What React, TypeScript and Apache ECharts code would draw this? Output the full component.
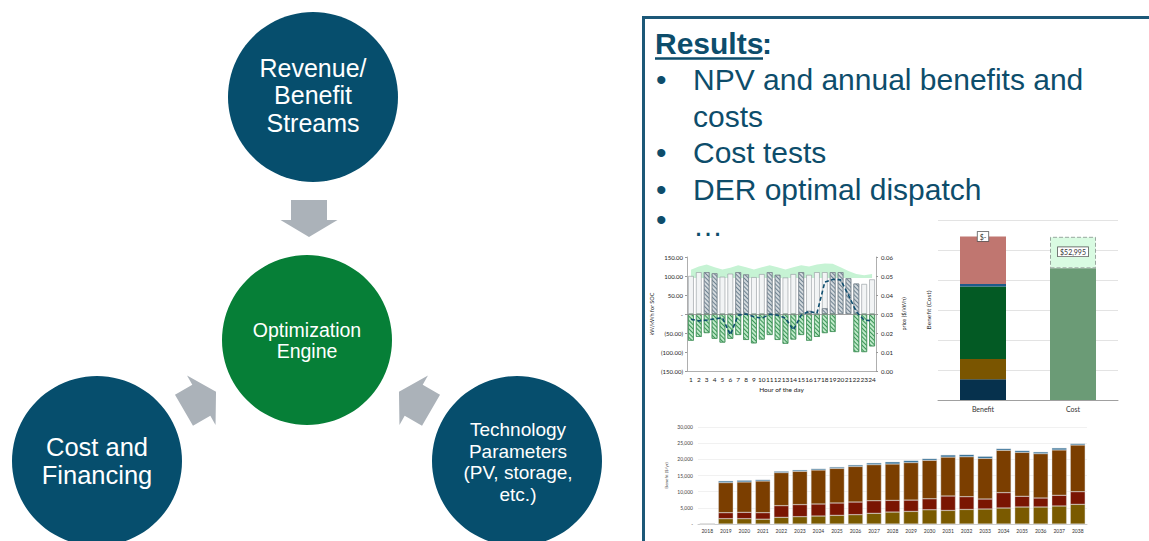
import React, { useEffect, useRef } from 'react';
import * as echarts from 'echarts';

// ---------- Dispatch chart (hour of the day) ----------
const hours = ['1','2','3','4','5','6','7','8','9','10','11','12','13','14','15','16','17','18','19','20','21','22','23','24'];
const pvOutput = [100, 110, null, null, 98, 106, null, null, 97, 105, null, null, 96, 105, null, 103, 110, 110, null, null, null, null, 79, 91];
const storageDischarge = [null, null, 110, 107, null, null, 110, 104, null, null, 110, 103, null, null, 110, 8, null, 15, 110, 110, 94, 80, null, null];
const storageCharge = [-70, -60, -50, -65, -75, -65, -55, -68, -77, -67, -55, -68, -78, -67, -55, -70, -60, -50, -47, null, null, -100, -100, -85];
const stateOfCharge = [-14, -18, -16, -13, -10, -55, -3, 0, -7, -11, -1, -3, -11, -42, -3, 7, 2, 84, 91, 90, 50, 6, -16, -18];
const energyPrice = [0.0533, 0.055, 0.056, 0.0546, 0.0534, 0.0544, 0.0556, 0.0546, 0.0534, 0.0546, 0.0556, 0.0546, 0.0534, 0.0546, 0.0556, 0.055, 0.056, 0.0566, 0.0564, 0.0546, 0.0526, 0.051, 0.0504, 0.051];
const leftTicks = { min: -150, max: 150, interval: 50 };
const rightTicks = { min: 0, max: 0.06, interval: 0.01 };

// ---------- NPV benefit / cost chart ----------
const npvCategories = ['Benefit', 'Cost'];
const benefitNavy = [6900, null];
const benefitOlive = [6800, null];
const benefitGreen = [24100, null];
const benefitBlue = [900, null];
const benefitSalmon = [15800, null];
const costGreen = [null, 43900];
const costNet = [null, 10500];
const benefitLabel = '$-';
const costLabel = '$52,995';

// ---------- Annual benefit chart ----------
const years = ['2018','2019','2020','2021','2022','2023','2024','2025','2026','2027','2028','2029','2030','2031','2032','2033','2034','2035','2036','2037','2038'];
const annualOlive = [0, 1650, 1650, 1500, 2060, 2270, 2470, 2680, 2890, 3300, 3700, 3900, 4400, 4200, 4500, 4640, 4950, 5260, 5260, 5570, 6080];
const annualRed = [0, 1850, 1950, 2000, 3610, 3730, 3720, 3820, 3910, 3900, 3600, 3500, 3400, 4460, 3950, 3090, 4750, 3300, 2780, 3300, 3920];
const annualBrown = [0, 9300, 9400, 9800, 10230, 10300, 10510, 10700, 11000, 11150, 11260, 11600, 11900, 12040, 12350, 12570, 13100, 13600, 13710, 14030, 14430];
const annualBlue = [0, 500, 500, 400, 400, 400, 400, 400, 450, 520, 640, 600, 500, 640, 640, 600, 500, 520, 520, 600, 420];

// ---------- Slide text ----------
const resultsTitle = 'Results';
const bulletLines = ['NPV and annual benefits and', 'costs', 'Cost tests', 'DER optimal dispatch', '…'];
const bulletFlags = [true, false, true, true, true];

const FONT = '"Liberation Sans", Arial, sans-serif';
const NAVY = '#064e6d';
const GREEN = '#067f37';
const ARROW = '#abb2b9';
const TEXT_BLUE = '#0d4d6b';

function arrowPts(cx: number, cy: number, angDeg: number) {
  const a = (angDeg * Math.PI) / 180;
  const c = Math.cos(a);
  const s = Math.sin(a);
  const local = [[-18.5, -18], [1.5, -18], [1.5, -28.5], [18.5, 0], [1.5, 28.5], [1.5, 18], [-18.5, 18]];
  return local.map(([x, y]) => [cx + x * c - y * s, cy + x * s + y * c]);
}

function circleText(cx: number, cy: number, text: string, size: number, lh: number) {
  return {
    type: 'text',
    z: 10,
    style: {
      text,
      x: cx,
      y: cy,
      align: 'center',
      verticalAlign: 'middle',
      fill: '#ffffff',
      fontSize: size,
      lineHeight: lh,
      fontFamily: FONT,
    },
  };
}

export default function App() {
  const ref = useRef<HTMLDivElement>(null);

  useEffect(() => {
    if (!ref.current) return;
    const chart = echarts.init(ref.current, undefined, { renderer: 'svg' });

    const graphics: any[] = [
      { type: 'circle', shape: { cx: 313, cy: 97, r: 85 }, style: { fill: NAVY } },
      { type: 'circle', shape: { cx: 307, cy: 340, r: 85 }, style: { fill: GREEN } },
      { type: 'circle', shape: { cx: 97, cy: 461, r: 85 }, style: { fill: NAVY } },
      { type: 'circle', shape: { cx: 517, cy: 461, r: 85 }, style: { fill: NAVY } },
      { type: 'polygon', shape: { points: arrowPts(309, 218.5, 90) }, style: { fill: ARROW } },
      { type: 'polygon', shape: { points: arrowPts(200, 401, -30) }, style: { fill: ARROW } },
      { type: 'polygon', shape: { points: arrowPts(415, 401, -150) }, style: { fill: ARROW } },
      circleText(313, 95, 'Revenue/\nBenefit\nStreams', 25, 27.5),
      circleText(307, 340, 'Optimization\nEngine', 19.5, 21),
      circleText(97, 461, 'Cost and\nFinancing', 25.5, 28),
      circleText(518, 462, 'Technology\nParameters\n(PV, storage,\netc.)', 19, 21.7),
      { type: 'rect', shape: { x: 643.5, y: 17.5, width: 540, height: 560 }, style: { fill: 'none', stroke: '#1c5878', lineWidth: 3 } },
      {
        type: 'text',
        style: { text: resultsTitle, x: 655, y: 43, verticalAlign: 'middle', fontSize: 30, fontWeight: 'bold', fill: TEXT_BLUE, fontFamily: FONT },
      },
      {
        type: 'text',
        style: { text: ':', x: 762, y: 43, verticalAlign: 'middle', fontSize: 30, fontWeight: 'bold', fill: TEXT_BLUE, fontFamily: FONT },
      },
      { type: 'line', shape: { x1: 655, y1: 58.5, x2: 763, y2: 58.5 }, style: { stroke: TEXT_BLUE, lineWidth: 2.5 } },
    ];

    bulletLines.forEach((line, i) => {
      const y = 79.5 + i * 36.6;
      if (bulletFlags[i]) {
        graphics.push({
          type: 'text',
          style: { text: '•', x: 656, y: i === 4 ? y - 6 : y, verticalAlign: 'middle', fontSize: 30, fill: TEXT_BLUE, fontFamily: FONT },
        });
      }
      graphics.push({
        type: 'text',
        style: { text: line, x: 693, y, verticalAlign: 'middle', fontSize: 30, fill: TEXT_BLUE, fontFamily: FONT },
      });
    });

    const smallLabel = { fontFamily: 'Lato, "Liberation Sans", sans-serif', color: '#222' };

    const hatch = (color: string) => ({
      symbol: 'rect',
      symbolSize: 1,
      color,
      dashArrayX: [1, 0],
      dashArrayY: [1, 1.8],
      rotation: Math.PI / 4,
    });

    const option: any = {
      animation: false,
      backgroundColor: '#ffffff',
      graphic: graphics,
      grid: [
        { left: 687, top: 257, width: 189, height: 114 },
        { left: 938, top: 220, width: 180, height: 180 },
        { left: 698, top: 427, width: 389, height: 97 },
      ],
      xAxis: [
        {
          type: 'category',
          gridIndex: 0,
          data: hours,
          axisLine: { onZero: false, lineStyle: { color: '#9a9a9a', width: 0.8 } },
          axisTick: { show: false },
          axisLabel: { ...smallLabel, fontSize: 6.5, interval: 0, margin: 5 },
          name: 'Hour of the day',
          nameLocation: 'middle',
          nameGap: 15,
          nameTextStyle: { ...smallLabel, fontSize: 6.5 },
        },
        {
          type: 'category',
          gridIndex: 1,
          data: npvCategories,
          axisLine: { lineStyle: { color: '#a0a0a0', width: 1 } },
          axisTick: { show: false },
          axisLabel: { ...smallLabel, fontSize: 7, color: '#333', margin: 5 },
        },
        {
          type: 'category',
          gridIndex: 2,
          data: years,
          axisLine: { lineStyle: { color: '#cccccc', width: 1 } },
          axisTick: { show: false },
          axisLabel: { ...smallLabel, fontSize: 5, interval: 0, margin: 4, color: '#333' },
        },
      ],
      yAxis: [
        {
          type: 'value',
          gridIndex: 0,
          ...leftTicks,
          axisLine: { show: true, lineStyle: { color: '#9a9a9a', width: 0.8 } },
          axisTick: { show: true, length: 2, lineStyle: { color: '#9a9a9a' } },
          splitLine: { show: false },
          axisLabel: {
            ...smallLabel,
            fontSize: 6,
            margin: 4,
            formatter: (v: number) => (v === 0 ? '-' : v < 0 ? `(${Math.abs(v).toFixed(2)})` : v.toFixed(2)),
          },
          name: 'kW/kWh for SOC',
          nameLocation: 'middle',
          nameRotate: 90,
          nameGap: 32,
          nameTextStyle: { ...smallLabel, fontSize: 5.5 },
        },
        {
          type: 'value',
          gridIndex: 0,
          position: 'right',
          ...rightTicks,
          axisLine: { show: true, lineStyle: { color: '#9a9a9a', width: 0.8 } },
          axisTick: { show: true, length: 2, lineStyle: { color: '#9a9a9a' } },
          splitLine: { show: false },
          axisLabel: { ...smallLabel, fontSize: 6, margin: 5, formatter: (v: number) => v.toFixed(2) },
          name: 'price ($/kWh)',
          nameLocation: 'middle',
          nameRotate: 90,
          nameGap: 25,
          nameTextStyle: { ...smallLabel, fontSize: 5.5 },
        },
        {
          type: 'value',
          gridIndex: 1,
          min: 0,
          max: 60000,
          interval: 10000,
          axisLine: { show: false },
          axisTick: { show: false },
          axisLabel: { show: false },
          splitLine: { lineStyle: { color: '#e3e3e3', width: 1 } },
          name: 'Benefit (Cost)',
          nameLocation: 'middle',
          nameRotate: 90,
          nameGap: 6,
          nameTextStyle: { ...smallLabel, fontSize: 6.5, color: '#333' },
        },
        {
          type: 'value',
          gridIndex: 2,
          min: 0,
          max: 30000,
          interval: 5000,
          axisLine: { show: false },
          axisTick: { show: false },
          splitLine: { lineStyle: { color: '#eeeeee', width: 0.8 } },
          axisLabel: {
            ...smallLabel,
            fontSize: 5,
            margin: 5,
            color: '#444',
            formatter: (v: number) => (v === 0 ? '-' : v.toLocaleString('en-US')),
          },
          name: 'Benefit ($/yr)',
          nameLocation: 'middle',
          nameRotate: 90,
          nameGap: 29,
          nameTextStyle: { ...smallLabel, fontSize: 4.5, color: '#444' },
        },
      ],
      series: [
        {
          name: 'Energy price',
          type: 'line',
          xAxisIndex: 0,
          yAxisIndex: 1,
          data: energyPrice,
          symbol: 'none',
          z: 1,
          lineStyle: { width: 0 },
          areaStyle: { color: '#c6f3d4', origin: 0.049, opacity: 1 },
        },
        {
          name: 'PV output',
          type: 'bar',
          xAxisIndex: 0,
          yAxisIndex: 0,
          data: pvOutput,
          barWidth: '72%',
          barGap: '-100%',
          z: 2,
          itemStyle: { color: '#f2f4f5', borderColor: '#8f959a', borderWidth: 0.6 },
        },
        {
          name: 'Storage discharge',
          type: 'bar',
          xAxisIndex: 0,
          yAxisIndex: 0,
          data: storageDischarge,
          barWidth: '72%',
          barGap: '-100%',
          z: 3,
          itemStyle: { color: '#d3d9dd', borderColor: '#7a858d', borderWidth: 0.6, decal: hatch('#6e8291') },
        },
        {
          name: 'Storage charge',
          type: 'bar',
          xAxisIndex: 0,
          yAxisIndex: 0,
          data: storageCharge,
          barWidth: '72%',
          barGap: '-100%',
          z: 3,
          itemStyle: { color: '#bfe9c9', borderColor: '#3f8f58', borderWidth: 0.6, decal: hatch('#3a9556') },
          markLine: {
            silent: true,
            symbol: 'none',
            label: { show: false },
            lineStyle: { color: '#8a8a8a', type: 'solid', width: 0.8 },
            data: [{ yAxis: 0 }],
          },
        },
        {
          name: 'SOC',
          type: 'line',
          xAxisIndex: 0,
          yAxisIndex: 0,
          data: stateOfCharge,
          symbol: 'none',
          z: 5,
          lineStyle: { color: '#0f4f70', width: 1.6, type: [4, 2.5] },
        },
        ...[
          { name: 'Benefit 1', data: benefitNavy, color: '#06314d' },
          { name: 'Benefit 2', data: benefitOlive, color: '#7a5500' },
          { name: 'Benefit 3', data: benefitGreen, color: '#035a24' },
          { name: 'Benefit 4', data: benefitBlue, color: '#1d5b89' },
        ].map((s) => ({
          name: s.name,
          type: 'bar',
          xAxisIndex: 1,
          yAxisIndex: 2,
          stack: 'npv',
          barWidth: 46,
          data: s.data,
          itemStyle: { color: s.color },
        })),
        {
          name: 'Benefit 5',
          type: 'bar',
          xAxisIndex: 1,
          yAxisIndex: 2,
          stack: 'npv',
          barWidth: 46,
          data: benefitSalmon,
          itemStyle: { color: '#c07670' },
          label: {
            show: true,
            position: ['50%', 0],
            align: 'center',
            verticalAlign: 'middle',
            formatter: benefitLabel,
            fontSize: 7,
            fontFamily: 'Lato, sans-serif',
            color: '#333',
            backgroundColor: '#ffffff',
            borderColor: '#555',
            borderWidth: 0.8,
            padding: [1, 2],
          },
        },
        {
          name: 'Cost',
          type: 'bar',
          xAxisIndex: 1,
          yAxisIndex: 2,
          stack: 'npv',
          barWidth: 46,
          data: costGreen,
          itemStyle: { color: '#6b9b76' },
        },
        {
          name: 'Net',
          type: 'bar',
          xAxisIndex: 1,
          yAxisIndex: 2,
          stack: 'npv',
          barWidth: 46,
          data: costNet,
          itemStyle: { color: '#d9fbe2', borderColor: '#9aa8a0', borderWidth: 1, borderType: 'dashed' },
          label: {
            show: true,
            position: ['50%', 15],
            align: 'center',
            verticalAlign: 'middle',
            formatter: costLabel,
            fontSize: 7,
            fontFamily: 'Lato, sans-serif',
            color: '#333',
            backgroundColor: '#ffffff',
            borderColor: '#555',
            borderWidth: 0.8,
            padding: [1, 2],
          },
        },
        ...[
          { name: 'Annual 1', data: annualOlive, color: '#7a5a00' },
          { name: 'Annual 2', data: annualRed, color: '#7a1502' },
          { name: 'Annual 3', data: annualBrown, color: '#7b3e00' },
          { name: 'Annual 4', data: annualBlue, color: '#1f6390' },
        ].map((s) => ({
          name: s.name,
          type: 'bar',
          xAxisIndex: 2,
          yAxisIndex: 3,
          stack: 'annual',
          barWidth: '80%',
          data: s.data,
          itemStyle: { color: s.color, borderColor: '#d8d8d8', borderWidth: 0.4 },
        })),
      ],
    };

    chart.setOption(option);
    return () => chart.dispose();
  }, []);

  return (
    <div
      ref={ref}
      style={{ position: 'fixed', left: 0, top: 0, width: 1149, height: 541, background: '#fff' }}
    />
  );
}
